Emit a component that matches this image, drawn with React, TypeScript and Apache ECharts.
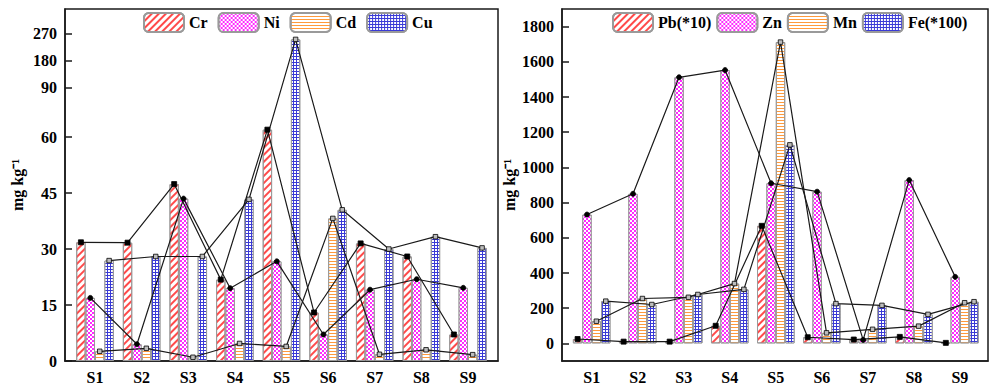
import React, { useEffect, useRef } from 'react';
import * as echarts from 'echarts';

// ---------- data ----------
const categories = ['S1', 'S2', 'S3', 'S4', 'S5', 'S6', 'S7', 'S8', 'S9'];

const leftNames = ['Cr', 'Ni', 'Cd', 'Cu'];
const crValues = [31.8, 31.7, 47.4, 21.8, 64.5, 13.0, 31.5, 28.0, 7.1];
const niValues = [16.9, 4.5, 43.5, 19.5, 26.7, 7.1, 19.1, 21.9, 19.6];
const cdValues = [2.6, 3.4, 1.0, 4.7, 3.9, 38.2, 1.8, 3.0, 1.7];
const cuValues = [26.9, 28.0, 28.0, 43.3, 250, 40.5, 30.0, 33.3, 30.3];

const rightNames = ['Pb(*10)', 'Zn', 'Mn', 'Fe(*100)'];
const pbValues = [25, 10, 10, 100, 668, 35, 22, 37, 3];
const znValues = [732, 850, 1512, 1553, 910, 862, 20, 928, 378];
const mnValues = [126, 255, 262, 340, 1712, 60, 80, 98, 231];
const feValues = [240, 221, 278, 307, 1128, 226, 216, 165, 237];

const leftTickValues = [0, 15, 30, 45, 60, 90, 180, 270];
const rightTickValues = [0, 200, 400, 600, 800, 1000, 1200, 1400, 1600, 1800];

// broken left axis: real value -> display position
const breakReal = [0, 60, 90, 180, 270];
const breakDisp = [0, 60, 73.2, 80.4, 87.8];

function toDisp(v: number): number {
  for (let i = 1; i < breakReal.length; i++) {
    if (v <= breakReal[i] || i === breakReal.length - 1) {
      const r0 = breakReal[i - 1], r1 = breakReal[i];
      const d0 = breakDisp[i - 1], d1 = breakDisp[i];
      return d0 + ((v - r0) * (d1 - d0)) / (r1 - r0);
    }
  }
  return v;
}
function toReal(d: number): number {
  for (let i = 1; i < breakDisp.length; i++) {
    if (d <= breakDisp[i] + 1e-6 || i === breakDisp.length - 1) {
      const r0 = breakReal[i - 1], r1 = breakReal[i];
      const d0 = breakDisp[i - 1], d1 = breakDisp[i];
      return r0 + ((d - d0) * (r1 - r0)) / (d1 - d0);
    }
  }
  return d;
}

// ---------- styles ----------
const FONT = '"Liberation Serif", "Times New Roman", serif';
const BAR_W = 9.4;
const LEFT_GRID = { left: 65, right: 492, top: 9, bottom: 26 };
const RIGHT_GRID = { left: 562, right: 2, top: 9, bottom: 26 };
const LEFT_X = [0.356, 9.644];
const RIGHT_X = [0.355, 9.61];

const barStyles = [
  {
    color: '#ffffff',
    decal: { symbol: 'rect', symbolSize: 1, color: '#ff4a4a', dashArrayX: [1, 0], dashArrayY: [1.6, 2.4], rotation: -Math.PI / 4 },
  },
  {
    color: '#ff2bff',
    decal: { symbol: 'rect', symbolSize: 1, color: '#ffffff', dashArrayX: [[1.5, 1.5], [0, 1.5, 1.5, 0]], dashArrayY: [1.5, 0] },
  },
  {
    color: '#ffffff',
    decal: { symbol: 'rect', symbolSize: 1, color: '#ff9a3c', dashArrayX: [1, 0], dashArrayY: [1, 2] },
  },
  {
    color: '#3a3ad6',
    decal: { symbol: 'rect', symbolSize: 1, color: '#ffffff', dashArrayX: [2, 1], dashArrayY: [2, 1] },
  },
];

const lineMarkers = [
  { symbol: 'rect', size: 5, fill: '#000000' },
  { symbol: 'circle', size: 5, fill: '#000000' },
  { symbol: 'rect', size: 4.5, fill: '#bdbdbd' },
  { symbol: 'rect', size: 4.5, fill: '#bdbdbd' },
];

function buildSeries(
  panel: number,
  names: string[],
  valueSets: number[][],
  map: (v: number) => number,
  gridWidth: number,
  xr: number[]
) {
  const unitPx = gridWidth / (xr[1] - xr[0]);
  const series: any[] = [];
  valueSets.forEach((vals, k) => {
    series.push({
      type: 'bar',
      name: names[k],
      xAxisIndex: panel,
      yAxisIndex: panel,
      barWidth: BAR_W,
      barGap: '0%',
      data: vals.map((v, i) => [i + 1, map(v)]),
      itemStyle: {
        color: barStyles[k].color,
        borderColor: '#9a9a9a',
        borderWidth: 1,
        decal: barStyles[k].decal,
      },
      z: 2,
    });
  });
  valueSets.forEach((vals, k) => {
    const offset = ((k - 1.5) * BAR_W) / unitPx;
    const m = lineMarkers[k];
    series.push({
      type: 'line',
      name: names[k] + ' line',
      xAxisIndex: panel,
      yAxisIndex: panel,
      data: vals.map((v, i) => [i + 1 + offset, map(v)]),
      symbol: m.symbol,
      symbolSize: m.size,
      showSymbol: true,
      lineStyle: { color: '#1a1a1a', width: 1.2 },
      itemStyle: { color: m.fill, borderColor: '#000', borderWidth: 0.8 },
      z: 5,
    });
  });
  return series;
}

const axisLabelStyle = { color: '#000', fontFamily: FONT, fontWeight: 'bold' as const, fontSize: 16 };

export default function App() {
  const ref = useRef<HTMLDivElement>(null);

  useEffect(() => {
    if (!ref.current) return;
    const chart = echarts.init(ref.current, null, { renderer: 'svg' });

    const leftWidth = 990 - LEFT_GRID.left - LEFT_GRID.right;
    const rightWidth = 990 - RIGHT_GRID.left - RIGHT_GRID.right;

    const series = [
      ...buildSeries(0, leftNames, [crValues, niValues, cdValues, cuValues], toDisp, leftWidth, LEFT_X),
      ...buildSeries(1, rightNames, [pbValues, znValues, mnValues, feValues], (v) => v, rightWidth, RIGHT_X),
    ];

    const xAxisCommon = (idx: number, xr: number[]) => ({
      type: 'value',
      gridIndex: idx,
      min: xr[0],
      max: xr[1],
      splitLine: { show: false },
      axisTick: { show: false },
      axisLine: { show: true, onZero: false, lineStyle: { color: '#1a1a1a', width: 1.5 } },
      axisLabel: {
        ...axisLabelStyle,
        margin: 8,
        customValues: categories.map((_, i) => i + 1),
        formatter: (v: number) => categories[Math.round(v) - 1] ?? '',
      },
    });

    const legendCommon = {
      top: 12,
      padding: 0,
      itemWidth: 40,
      itemHeight: 19,
      width: 420,
      orient: 'horizontal',
      textStyle: { ...axisLabelStyle },
    };

    const option: any = {
      animation: false,
      backgroundColor: '#ffffff',
      grid: [
        { ...LEFT_GRID, show: true, borderColor: '#1a1a1a', borderWidth: 1.5, containLabel: false },
        { ...RIGHT_GRID, show: true, borderColor: '#1a1a1a', borderWidth: 1.5, containLabel: false },
      ],
      legend: [
        { ...legendCommon, data: leftNames, left: 143, itemGap: 10 },
        { ...legendCommon, data: rightNames, left: 612, itemGap: 5 },
      ],
      xAxis: [xAxisCommon(0, LEFT_X), xAxisCommon(1, RIGHT_X)],
      yAxis: [
        {
          type: 'value',
          gridIndex: 0,
          min: 0,
          max: 94.3,
          name: 'mg kg⁻¹',
          nameLocation: 'middle',
          nameRotate: 90,
          nameGap: 40,
          nameTextStyle: { ...axisLabelStyle },
          splitLine: { show: false },
          axisLine: { show: true, onZero: false, lineStyle: { color: '#1a1a1a', width: 1.5 } },
          axisTick: {
            show: true,
            inside: true,
            length: 7,
            lineStyle: { color: '#1a1a1a', width: 1.5 },
            customValues: leftTickValues.map(toDisp),
          },
          axisLabel: {
            ...axisLabelStyle,
            margin: 8,
            customValues: leftTickValues.map(toDisp),
            formatter: (v: number) => String(Math.round(toReal(v))),
          },
        },
        {
          type: 'value',
          gridIndex: 1,
          min: -100,
          max: 1900,
          name: 'mg kg⁻¹',
          nameLocation: 'middle',
          nameRotate: 90,
          nameGap: 45,
          nameTextStyle: { ...axisLabelStyle },
          splitLine: { show: false },
          axisLine: { show: true, onZero: false, lineStyle: { color: '#1a1a1a', width: 1.5 } },
          axisTick: {
            show: true,
            inside: true,
            length: 7,
            lineStyle: { color: '#1a1a1a', width: 1.5 },
            customValues: rightTickValues,
          },
          axisLabel: {
            ...axisLabelStyle,
            margin: 8,
            customValues: rightTickValues,
            formatter: (v: number) => String(v),
          },
        },
      ],
      series,
    };

    chart.setOption(option);
    return () => chart.dispose();
  }, []);

  return (
    <div
      ref={ref}
      style={{ position: 'absolute', left: 0, top: 0, width: 990, height: 387, background: '#fff' }}
    />
  );
}
